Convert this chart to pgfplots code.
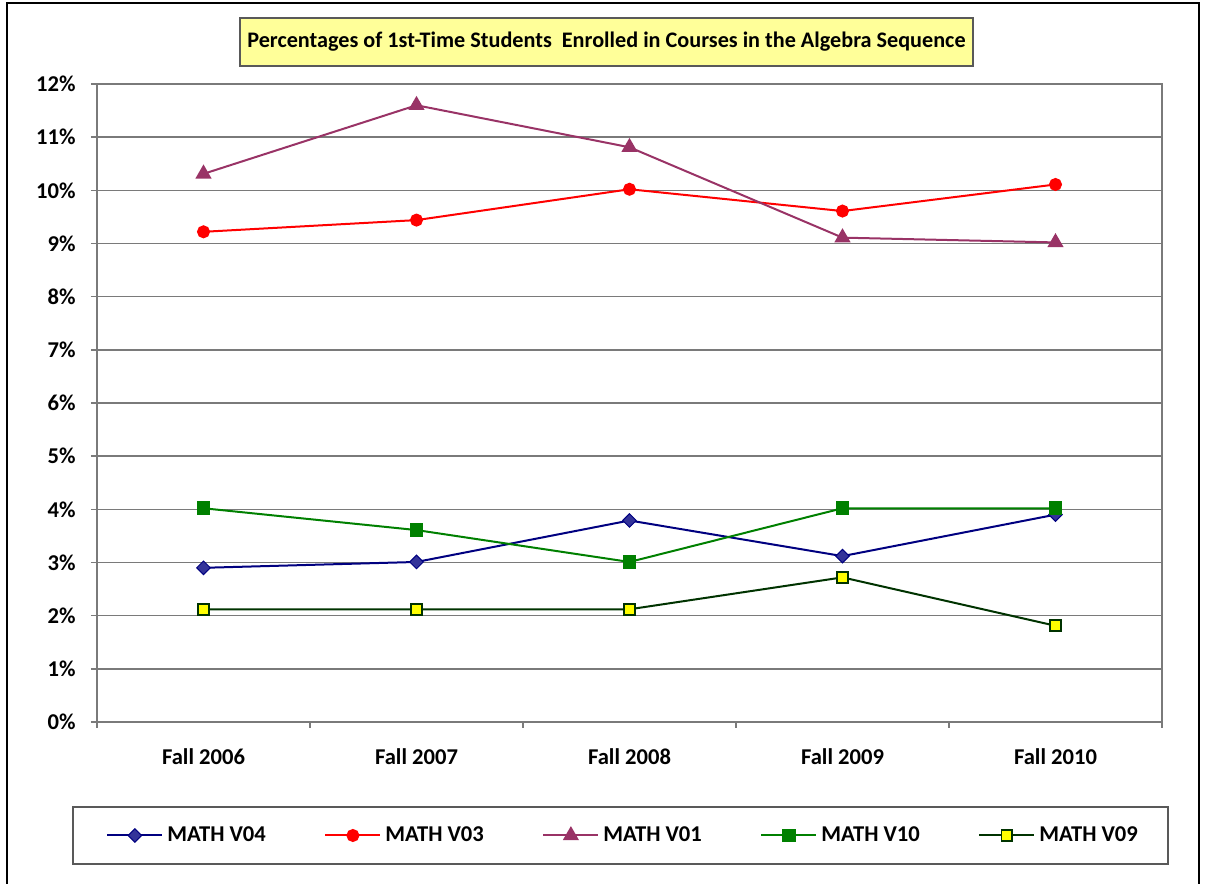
\documentclass[border=0pt]{standalone}
\usepackage{fontspec}
\setmainfont{Carlito}
\usepackage{pgfplots}
\pgfplotsset{compat=1.18}
\definecolor{cV04}{HTML}{000080}
\definecolor{cV04f}{HTML}{333399}
\definecolor{cV03}{HTML}{FF0000}
\definecolor{cV01}{HTML}{993366}
\definecolor{cV10}{HTML}{008000}
\definecolor{cV09}{HTML}{003300}
\definecolor{cV09f}{HTML}{FFFF00}
\definecolor{titlefill}{HTML}{FFFF99}
\definecolor{gridc}{HTML}{7A7A7A}
\begin{document}
\begin{tikzpicture}[font=\fontsize{11.3}{13}\selectfont\bfseries]
\useasboundingbox (0,0) rectangle (603pt,442pt);
\draw[line width=1pt] (3.5pt,-5pt) rectangle (599.5pt,440.5pt);
\node[draw=gray!70!black, fill=titlefill, minimum width=366.5pt, minimum height=24pt, inner sep=0pt, line width=0.6pt, font=\fontsize{11.1}{13}\selectfont\bfseries] at (303.25pt,421pt) {Percentages of 1st-Time Students\ \ Enrolled in Courses in the Algebra Sequence};
\draw[line width=0.7pt, draw=gray!70!black] (36.5pt,10pt) rectangle (584pt,38.5pt);
\begin{axis}[
  at={(48.5pt,81pt)}, anchor=south west, scale only axis,
  width=532.5pt, height=319pt,
  xmin=-0.5, xmax=4.5, ymin=0, ymax=12,
  xtick={0,1,2,3,4},
  xticklabels={Fall 2006,Fall 2007,Fall 2008,Fall 2009,Fall 2010},
  minor xtick={-0.5,0.5,1.5,2.5,3.5,4.5},
  ytick={0,1,2,3,4,5,6,7,8,9,10,11,12},
  yticklabels={0\%,1\%,2\%,3\%,4\%,5\%,6\%,7\%,8\%,9\%,10\%,11\%,12\%},
  tick pos=left,
  tick align=outside,
  major tick length=3pt, minor tick length=3pt,
  major x tick style={draw=none},
  tick style={gridc, line width=0.75pt},
  axis line style={gridc, line width=0.75pt},
  ymajorgrids, grid style={gridc, line width=0.75pt},
  xticklabel style={anchor=center, yshift=-14.5pt},
  yticklabel style={anchor=east, inner sep=0pt, xshift=-7.5pt},
  legend columns=5,
  legend style={draw=none, fill=none, inner sep=0pt, at={(0.00845,-0.1779)}, anchor=west,
    /tikz/every even column/.append style={column sep=25.5pt}},
  legend image code/.code={
    \draw[#1] (0pt,0pt) -- (27.5pt,0pt);
    \draw[#1, only marks] plot coordinates {(13.75pt,0pt)};
  },
]
\addplot[cV04, line width=1pt, mark=square*, mark size=2.4pt, mark options={rotate=45, fill=cV04f, draw=cV04, line width=0.5pt}]
  coordinates {(0,2.90) (1,3.01) (2,3.79) (3,3.12) (4,3.90)};
\addlegendentry{\makebox[51pt][l]{MATH V04}}
\addplot[cV03, line width=1pt, mark=*, mark size=2.75pt, mark options={fill=cV03, draw=cV03}]
  coordinates {(0,9.22) (1,9.44) (2,10.02) (3,9.61) (4,10.11)};
\addlegendentry{\makebox[51pt][l]{MATH V03}}
\addplot[cV01, line width=1pt, mark=triangle*, mark size=3.7pt, mark options={fill=cV01, draw=cV01}]
  coordinates {(0,10.31) (1,11.60) (2,10.81) (3,9.11) (4,9.02)};
\addlegendentry{\makebox[51pt][l]{MATH V01}}
\addplot[cV10, line width=1pt, mark=square*, mark size=2.9pt, mark options={fill=cV10, draw=cV10}]
  coordinates {(0,4.02) (1,3.61) (2,3.01) (3,4.02) (4,4.02)};
\addlegendentry{\makebox[51pt][l]{MATH V10}}
\addplot[cV09, line width=1pt, mark=square*, mark size=2.7pt, mark options={fill=cV09f, draw=cV09, line width=0.9pt}]
  coordinates {(0,2.12) (1,2.12) (2,2.12) (3,2.72) (4,1.81)};
\addlegendentry{\makebox[51pt][l]{MATH V09}}
\end{axis}
\end{tikzpicture}
\end{document}
